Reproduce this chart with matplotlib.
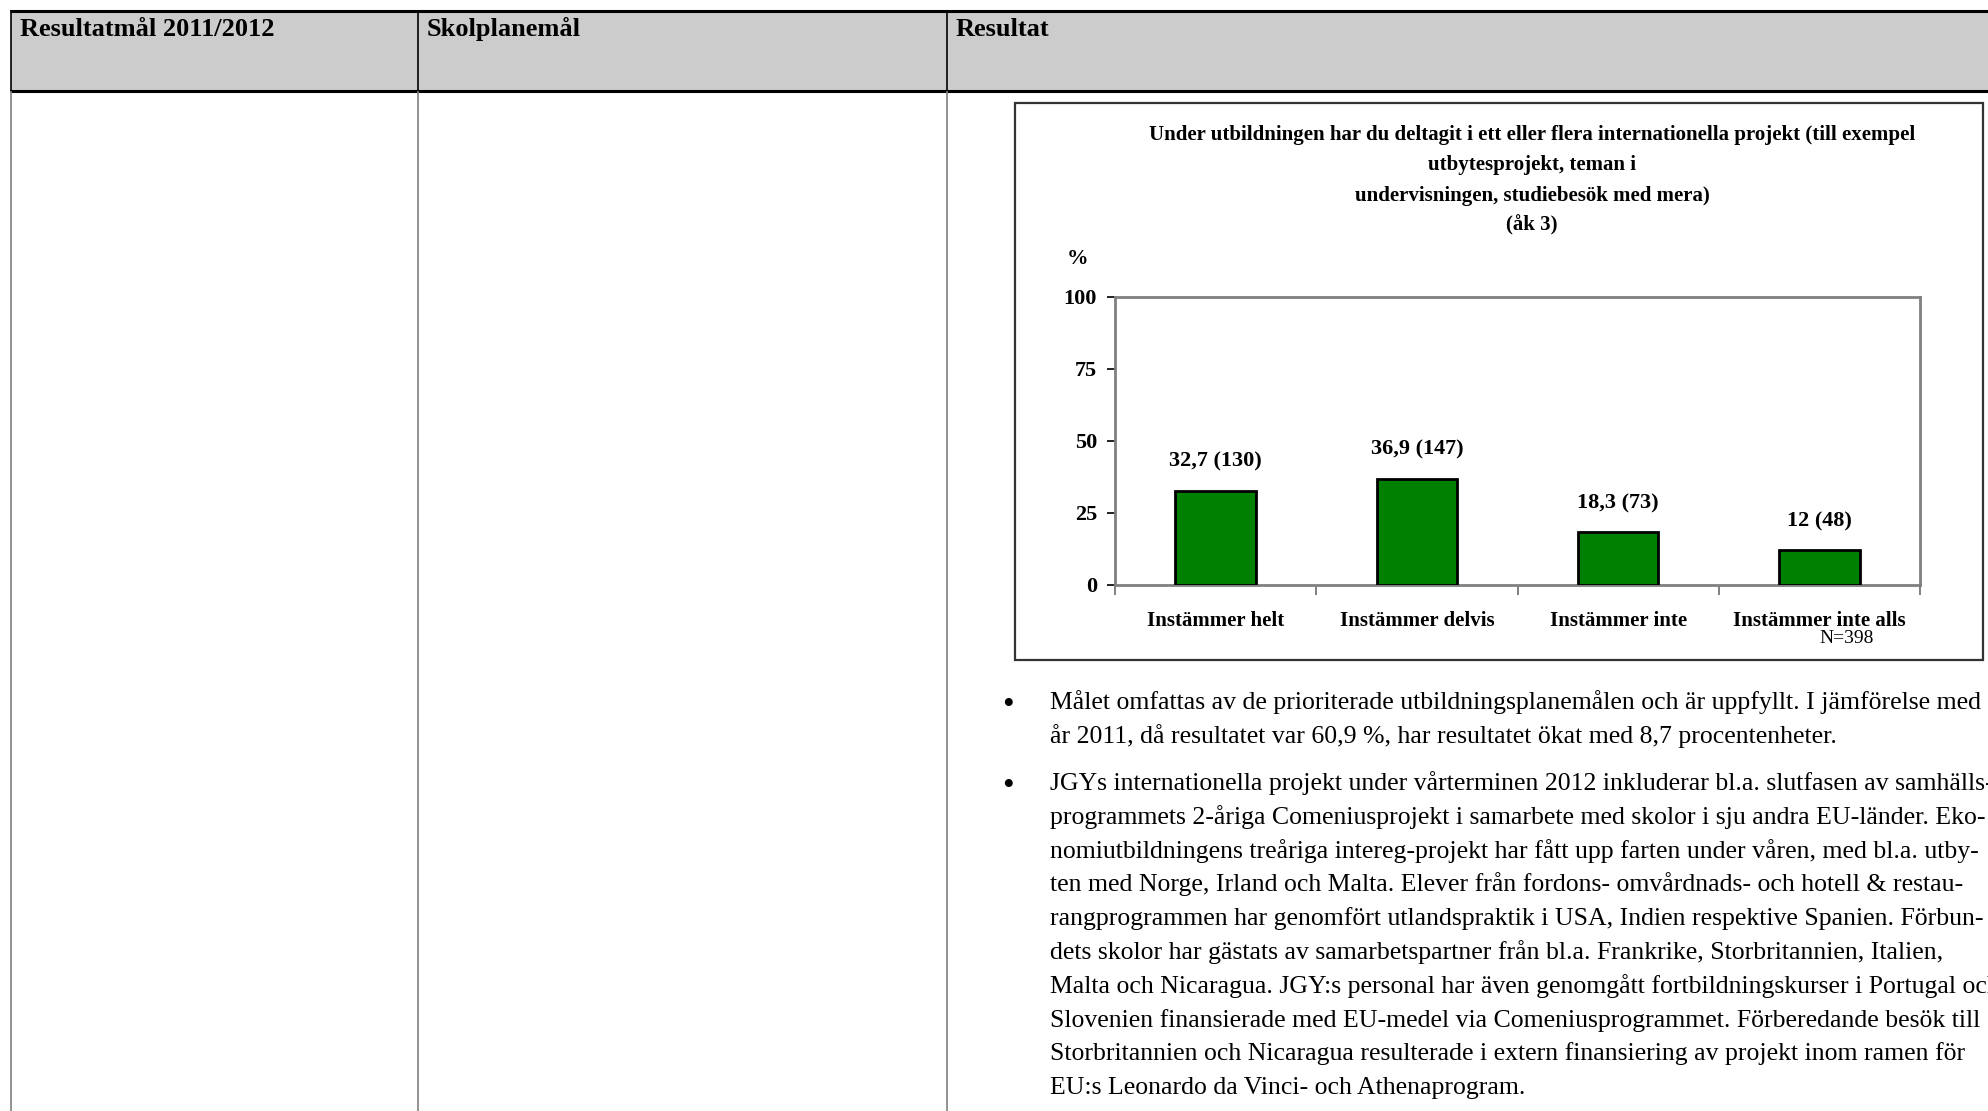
import matplotlib
matplotlib.use("Agg")
import matplotlib.pyplot as plt
from matplotlib.patches import Rectangle
from matplotlib.lines import Line2D
from matplotlib.ticker import FixedLocator

# ---------------- data ----------------
categories = ["Instämmer helt", "Instämmer delvis", "Instämmer inte", "Instämmer inte alls"]
percent = [32.7, 36.9, 18.3, 12.0]
counts = [130, 147, 73, 48]
value_labels = ["32,7 (130)", "36,9 (147)", "18,3 (73)", "12 (48)"]
y_ticks = [0, 25, 50, 75, 100]
n_note = "N=398"

header_cols = ["Resultatmål 2011/2012", "Skolplanemål", "Resultat"]
chart_title = ["Under utbildningen har du deltagit i ett eller flera internationella projekt (till exempel",
               "utbytesprojekt, teman i",
               "undervisningen, studiebesök med mera)",
               "(åk 3)"]
para1 = ["Målet omfattas av de prioriterade utbildningsplanemålen och är uppfyllt. I jämförelse med",
         "år 2011, då resultatet var 60,9 %, har resultatet ökat med 8,7 procentenheter."]
para2 = ["JGYs internationella projekt under vårterminen 2012 inkluderar bl.a. slutfasen av samhälls-",
         "programmets 2-åriga Comeniusprojekt i samarbete med skolor i sju andra EU-länder. Eko-",
         "nomiutbildningens treåriga intereg-projekt har fått upp farten under våren, med bl.a. utby-",
         "ten med Norge, Irland och Malta. Elever från fordons- omvårdnads- och hotell & restau-",
         "rangprogrammen har genomfört utlandspraktik i USA, Indien respektive Spanien. Förbun-",
         "dets skolor har gästats av samarbetspartner från bl.a. Frankrike, Storbritannien, Italien,",
         "Malta och Nicaragua. JGY:s personal har även genomgått fortbildningskurser i Portugal och",
         "Slovenien finansierade med EU-medel via Comeniusprogrammet. Förberedande besök till",
         "Storbritannien och Nicaragua resulterade i extern finansiering av projekt inom ramen för",
         "EU:s Leonardo da Vinci- och Athenaprogram."]

# ---------------- figure ----------------
W, H = 1988, 1111
fig = plt.figure(figsize=(W / 100, H / 100), dpi=100)
fig.patch.set_facecolor("white")
SERIF = "Liberation Serif"

def fx(x):
    return x / W

def fy(y):
    return 1 - y / H

# header band
fig.patches.append(Rectangle((fx(11), fy(91)), fx(W) - fx(11), fy(11) - fy(91),
                             transform=fig.transFigure, facecolor="#cccccc",
                             edgecolor="none", zorder=0))
def hline(y, x0, x1, lw, c):
    fig.add_artist(Line2D([fx(x0), fx(x1)], [fy(y), fy(y)], transform=fig.transFigure,
                          color=c, lw=lw, solid_capstyle="butt"))
def vline(x, y0, y1, lw, c):
    fig.add_artist(Line2D([fx(x), fx(x)], [fy(y0), fy(y1)], transform=fig.transFigure,
                          color=c, lw=lw, solid_capstyle="butt"))

hline(11, 10, W, 2.2, "black")
hline(91, 10, W, 2.2, "black")
for xc in (11, 418, 947):
    vline(xc, 10, 91, 1.2, "black")
    vline(xc, 91, H, 1.2, "#808080")

for txt, xc in zip(header_cols, (20, 427, 956)):
    fig.text(fx(xc), fy(36), txt, fontsize=19, fontweight="bold", family=SERIF,
             ha="left", va="baseline")

# chart box
fig.patches.append(Rectangle((fx(1015), fy(660)), fx(1983) - fx(1015), fy(103) - fy(660),
                             transform=fig.transFigure, facecolor="white",
                             edgecolor="#333333", lw=1.6, zorder=1))

for i, line in enumerate(chart_title):
    fig.text(fx(1532), fy(140 + i * 30.3), line, fontsize=15, fontweight="bold",
             family=SERIF, ha="center", va="baseline", zorder=3)

fig.text(fx(1067), fy(264), "%", fontsize=15.5, fontweight="bold", family=SERIF,
         ha="left", va="baseline", zorder=3)

# axes
ax = fig.add_axes([fx(1115), fy(585), fx(1920) - fx(1115), fy(297) - fy(585)])
ax.set_zorder(2)
x = list(range(len(categories)))
ax.bar(x, percent, width=0.40, color="#008000", edgecolor="black", linewidth=2.0, zorder=3)
ax.set_xlim(-0.5, len(categories) - 0.5)
ax.set_ylim(0, 100)
ax.set_yticks(y_ticks)
ax.set_yticklabels([str(t) for t in y_ticks], fontsize=16, fontweight="bold", family=SERIF)
ax.tick_params(axis="y", length=6, width=1.2, color="black", pad=7)
ax.set_xticks(x)
ax.set_xticklabels(categories, fontsize=15, fontweight="bold", family=SERIF)
ax.tick_params(axis="x", which="major", length=0, pad=18.5)
ax.xaxis.set_minor_locator(FixedLocator([i - 0.5 for i in range(len(categories) + 1)]))
ax.tick_params(axis="x", which="minor", length=7, width=1.4, color="#808080")
for side in ("top", "right", "bottom", "left"):
    ax.spines[side].set_color("#808080")
    ax.spines[side].set_linewidth(2.0)

for xi, p, lab in zip(x, percent, value_labels):
    ax.annotate(lab, (xi, p), xytext=(0, 29), textcoords="offset pixels",
                ha="center", va="center", fontsize=16, fontweight="bold", family=SERIF,
                zorder=4)

fig.text(fx(1847), fy(643), n_note, fontsize=14, family=SERIF, ha="center",
         va="baseline", zorder=3)

# body text
LS = 33.8
for i, line in enumerate(para1):
    y = 709 + i * LS
    if i == 0:
        fig.text(fx(1008), fy(y + 5), "\u2022", fontsize=24, family=SERIF,
                 ha="center", va="baseline")
    fig.text(fx(1050), fy(y), line, fontsize=18.5, family=SERIF, ha="left", va="baseline")
for i, line in enumerate(para2):
    y = 790 + i * LS
    if i == 0:
        fig.text(fx(1008), fy(y + 5), "\u2022", fontsize=24, family=SERIF,
                 ha="center", va="baseline")
    fig.text(fx(1050), fy(y), line, fontsize=18.5, family=SERIF, ha="left", va="baseline")

fig.savefig("out.png", dpi=100)
